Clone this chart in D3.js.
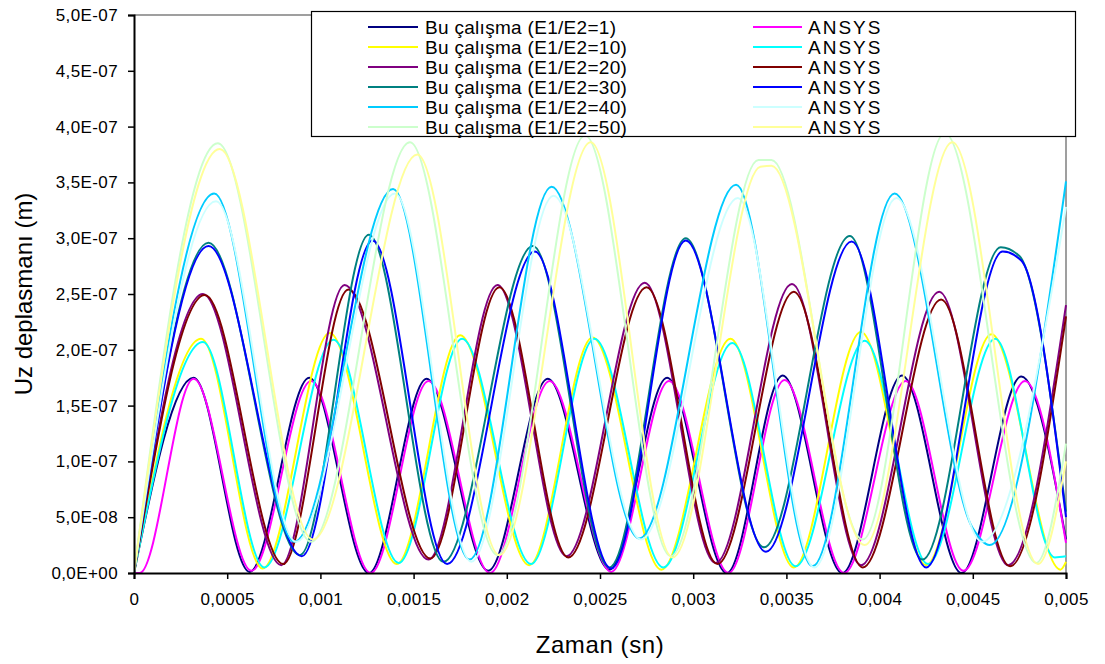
<!DOCTYPE html>
<html>
<head>
<meta charset="utf-8">
<script src="https://cdn.jsdelivr.net/npm/d3@7"></script>
<style>
  body { margin: 0; background: #fff; }
  text { font-family: "Liberation Sans", Arial, sans-serif; fill: #000; }
</style>
</head>
<body>
<div id="chart"></div>
<script>
// x: zaman (sn), y: deplasman in units of 1e-7 m
const xTicks = [0, 0.0005, 0.001, 0.0015, 0.002, 0.0025, 0.003, 0.0035, 0.004, 0.0045, 0.005];
const xTickLabels = ['0', '0,0005', '0,001', '0,0015', '0,002', '0,0025', '0,003', '0,0035', '0,004', '0,0045', '0,005'];
const yTicks = [0, 0.5, 1, 1.5, 2, 2.5, 3, 3.5, 4, 4.5, 5];
const yTickLabels = ['0,0E+00', '5,0E-08', '1,0E-07', '1,5E-07', '2,0E-07', '2,5E-07', '3,0E-07', '3,5E-07', '4,0E-07', '4,5E-07', '5,0E-07'];

const buNames = ['Bu çalışma (E1/E2=1)', 'Bu çalışma (E1/E2=10)', 'Bu çalışma (E1/E2=20)', 'Bu çalışma (E1/E2=30)', 'Bu çalışma (E1/E2=40)', 'Bu çalışma (E1/E2=50)'];
const ansysNames = ['ANSYS', 'ANSYS', 'ANSYS', 'ANSYS', 'ANSYS', 'ANSYS'];
const buColors = ['#000080', '#FFFF00', '#800080', '#008080', '#00CCFF', '#CCFFCC'];
const ansysColors = ['#FF00FF', '#00FFFF', '#800000', '#0000FF', '#CCFFFF', '#FFFF99'];

const bu1 = [[0,0],[0.00032,1.75],[0.00062,0.01],[0.00094,1.75],[0.00126,0.0],[0.00157,1.74],[0.0019,0.02],[0.00222,1.74],[0.00255,0.03],[0.00286,1.75],[0.00318,0.0],[0.00348,1.77],[0.0038,0.0],[0.00412,1.77],[0.00444,0.0],[0.00476,1.76],[0.005,0.30]];
const ansys1 = [[0,0],[0.00003,0],[0.00032,1.74],[0.00063,0.02],[0.00095,1.72],[0.00127,0.0],[0.00158,1.72],[0.00191,0.0],[0.00223,1.72],[0.00256,0.01],[0.00287,1.72],[0.00319,0.0],[0.00349,1.73],[0.00381,0.0],[0.00414,1.72],[0.00445,0.02],[0.00478,1.72],[0.005,0.27]];
const bu10 = [[0,0],[0.00036,2.10],[0.00069,0.04],[0.00105,2.15],[0.00141,0.08],[0.00175,2.13],[0.00212,0.07],[0.00246,2.11],[0.00283,0.03],[0.0032,2.10],[0.00354,0.05],[0.0039,2.16],[0.00425,0.07],[0.0046,2.14],[0.00497,0.03],[0.005,0.10]];
const ansys10 = [[0,0],[0.00037,2.07],[0.0007,0.05],[0.00107,2.09],[0.00142,0.09],[0.00176,2.10],[0.00213,0.08],[0.00247,2.10],[0.00284,0.05],[0.00321,2.06],[0.00355,0.06],[0.00392,2.08],[0.00426,0.08],[0.00462,2.10],[0.00494,0.14],[0.005,0.15]];
const bu20 = [[0,0],[0.00037,2.50],[0.00079,0.07],[0.00113,2.58],[0.00158,0.12],[0.00195,2.58],[0.00232,0.15],[0.00274,2.60],[0.00312,0.09],[0.00353,2.59],[0.0039,0.07],[0.00432,2.52],[0.00469,0.07],[0.005,2.40]];
const ansys20 = [[0,0],[0.00038,2.49],[0.0008,0.08],[0.00115,2.54],[0.00159,0.13],[0.00196,2.56],[0.00233,0.14],[0.00275,2.56],[0.00313,0.08],[0.00354,2.52],[0.00391,0.05],[0.00433,2.45],[0.0047,0.06],[0.005,2.30]];
const bu30 = [[0,0],[0.0004,2.96],[0.00089,0.16],[0.00126,3.03],[0.00166,0.10],[0.00214,2.93],[0.00255,0.05],[0.00296,3.00],[0.00338,0.23],[0.00384,3.02],[0.00423,0.12],[0.00465,2.92],[0.00475,2.84],[0.005,0.55]];
const ansys30 = [[0,0],[0.0004,2.93],[0.0009,0.15],[0.00128,2.98],[0.00168,0.08],[0.00215,2.88],[0.00256,0.04],[0.00296,2.98],[0.00339,0.19],[0.00385,2.97],[0.00425,0.05],[0.00466,2.88],[0.00476,2.80],[0.005,0.50]];
const bu40 = [[0,0],[0.00043,3.40],[0.00086,0.28],[0.00139,3.44],[0.0018,0.12],[0.00224,3.46],[0.00271,0.31],[0.00323,3.48],[0.00364,0.06],[0.00408,3.40],[0.0045,0.40],[0.00459,0.25],[0.005,3.51]];
const ansys40 = [[0,0],[0.00044,3.33],[0.00087,0.28],[0.0014,3.40],[0.00181,0.10],[0.00225,3.38],[0.00272,0.30],[0.00324,3.36],[0.00365,0.05],[0.00409,3.36],[0.00455,0.28],[0.005,3.28]];
const bu50 = [[0,0],[0.00045,3.85],[0.00095,0.28],[0.00148,3.86],[0.00195,0.16],[0.00242,3.92],[0.00288,0.15],[0.00335,3.70],[0.00342,3.70],[0.00391,0.30],[0.00435,3.94],[0.00484,0.09],[0.005,1.16]];
const ansys50 = [[0,0],[0.00046,3.80],[0.00096,0.30],[0.00152,3.75],[0.00196,0.16],[0.00245,3.86],[0.00289,0.14],[0.00336,3.64],[0.00342,3.65],[0.00392,0.25],[0.00439,3.86],[0.00485,0.08],[0.005,1.00]];

const buData = [bu1, bu10, bu20, bu30, bu40, bu50];
const ansysData = [ansys1, ansys10, ansys20, ansys30, ansys40, ansys50];

const width = 1105;
const height = 664;
const plot = { left: 134, top: 15, right: 1066, bottom: 573 };

const svg = d3.select('#chart').append('svg')
  .attr('width', width)
  .attr('height', height)
  .attr('viewBox', [0, 0, width, height]);

const x = d3.scaleLinear().domain([0, 0.005]).range([plot.left, plot.right]);
const y = d3.scaleLinear().domain([0, 5]).range([plot.bottom, plot.top]);

// plot frame (Excel style: grey top/right border)
svg.append('path')
  .attr('d', `M${plot.left},${plot.top}H${plot.right}V${plot.bottom}`)
  .attr('fill', 'none')
  .attr('stroke', '#808080')
  .attr('stroke-width', 1.5);

svg.append('clipPath').attr('id', 'clip')
  .append('rect')
  .attr('x', plot.left).attr('y', plot.top - 5)
  .attr('width', plot.right - plot.left + 1).attr('height', plot.bottom - plot.top + 5);

const line = d3.line()
  .x(d => x(d[0]))
  .y(d => y(d[1]))
  .curve(d3.curveMonotoneX);

const lines = svg.append('g').attr('clip-path', 'url(#clip)');
buData.forEach((data, i) => {
  lines.append('path')
    .attr('d', line(data))
    .attr('fill', 'none')
    .attr('stroke', buColors[i])
    .attr('stroke-width', 2);
  lines.append('path')
    .attr('d', line(ansysData[i]))
    .attr('fill', 'none')
    .attr('stroke', ansysColors[i])
    .attr('stroke-width', 2);
});

// axes
svg.append('g')
  .attr('transform', `translate(0,${plot.bottom})`)
  .call(d3.axisBottom(x).tickValues(xTicks).tickSize(6).tickPadding(14)
    .tickFormat((d, i) => xTickLabels[i]))
  .call(g => g.select('.domain').attr('stroke', '#000').attr('stroke-width', 2))
  .call(g => g.selectAll('.tick line').attr('stroke', '#000').attr('stroke-width', 1.5))
  .call(g => g.selectAll('text').attr('font-size', 17).style('letter-spacing', '0.4px')
    .attr('font-family', '"Liberation Sans", Arial, sans-serif'));

svg.append('g')
  .attr('transform', `translate(${plot.left},0)`)
  .call(d3.axisLeft(y).tickValues(yTicks).tickSize(6).tickPadding(10)
    .tickFormat((d, i) => yTickLabels[i]))
  .call(g => g.select('.domain').attr('stroke', '#000').attr('stroke-width', 2))
  .call(g => g.selectAll('.tick line').attr('stroke', '#000').attr('stroke-width', 1.5))
  .call(g => g.selectAll('text').attr('font-size', 17).style('letter-spacing', '0.4px')
    .attr('font-family', '"Liberation Sans", Arial, sans-serif'));

// axis titles
svg.append('text')
  .attr('x', (plot.left + plot.right) / 2)
  .attr('y', 653)
  .attr('text-anchor', 'middle')
  .attr('font-size', 24)
  .style('letter-spacing', '0.6px')
  .text('Zaman (sn)');

svg.append('text')
  .attr('transform', `translate(32,${(plot.top + plot.bottom) / 2}) rotate(-90)`)
  .attr('text-anchor', 'middle')
  .attr('font-size', 24)
  .text('Uz deplasmanı (m)');

// legend
const legend = svg.append('g');
legend.append('rect')
  .attr('x', 311.5).attr('y', 11.5)
  .attr('width', 764).attr('height', 125)
  .attr('fill', '#fff')
  .attr('stroke', '#000')
  .attr('stroke-width', 1.2);

const rowY = i => 27 + i * 20;
buNames.forEach((name, i) => {
  legend.append('line')
    .attr('x1', 368).attr('x2', 418)
    .attr('y1', rowY(i)).attr('y2', rowY(i))
    .attr('stroke', buColors[i]).attr('stroke-width', 2);
  legend.append('text')
    .attr('x', 425).attr('y', rowY(i) + 7)
    .attr('font-size', 19)
    .style('letter-spacing', '0.3px')
    .text(name);
});
ansysNames.forEach((name, i) => {
  legend.append('line')
    .attr('x1', 753).attr('x2', 802)
    .attr('y1', rowY(i)).attr('y2', rowY(i))
    .attr('stroke', ansysColors[i]).attr('stroke-width', 2);
  legend.append('text')
    .attr('x', 808).attr('y', rowY(i) + 7)
    .attr('font-size', 19)
    .style('letter-spacing', '2px')
    .text(name);
});
</script>
</body>
</html>
